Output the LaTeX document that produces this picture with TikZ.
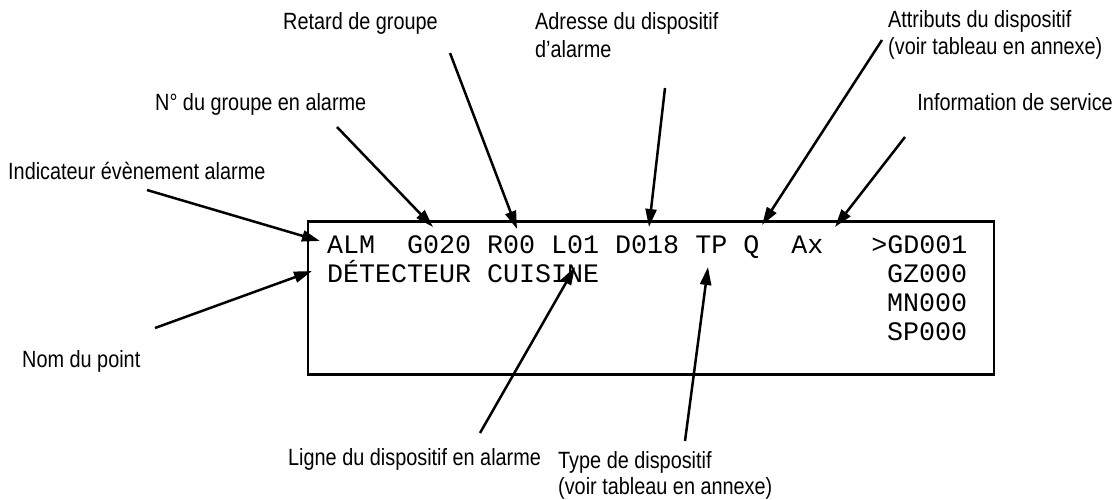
\documentclass[tikz,border=0pt]{standalone}
\usepackage{fontspec}
\usetikzlibrary{arrows.meta}
\newfontfamily\lblfont[FakeStretch=0.845]{Liberation Sans}
\newfontfamily\monofont{Liberation Mono}
\begin{document}
\begin{tikzpicture}[x=1pt,y=-1pt,
  lbl/.style={font=\lblfont\fontsize{23.5}{27}\selectfont, inner sep=0pt, anchor=base west},
  lblr/.style={font=\lblfont\fontsize{23.5}{27}\selectfont, inner sep=0pt, anchor=base east},
  scr/.style={font=\monofont\fontsize{26.67}{29}\selectfont, inner sep=0pt, anchor=base west},
  ptr/.style={line width=2.5pt, -{Triangle[length=18pt,width=11pt]}},
  screen/.style={draw, line width=2.5pt}]
\useasboundingbox (0,0) rectangle (1116,499);
% screen box
\node[screen, minimum width=686pt, minimum height=153pt, inner sep=0pt, anchor=north west] (box) at (306.5,220) {};
% screen text
\node[scr] (l1) at (327,253) {ALM~~G020~R00~L01~D018~TP~Q~~Ax~~~>GD001};
\node[scr] (l2) at (327,282) {DÉTECTEUR~CUISINE};
\node[scr] (l3) at (887,282) {GZ000};
\node[scr] (l4) at (887,311) {MN000};
\node[scr] (l5) at (887,340) {SP000};
% labels
\node[lbl] (ind) at (8,179) {Indicateur évènement alarme};
\node[lbl] (grp) at (155,110) {N° du groupe en alarme};
\node[lbl] (ret) at (283,29) {Retard de groupe};
\node[lbl] (adr1) at (535,29) {Adresse du dispositif};
\node[lbl] (adr2) at (535,57) {d’alarme};
\node[lbl] (att1) at (888,27) {Attributs du dispositif};
\node[lbl] (att2) at (888,54) {(voir tableau en annexe)};
\node[lblr] (inf) at (1113,110) {Information de service};
\node[lbl] (nom) at (22,367) {Nom du point};
\node[lbl] (lig) at (288,465) {Ligne du dispositif en alarme};
\node[lbl] (typ1) at (558,468) {Type de dispositif};
\node[lbl] (typ2) at (558,494) {(voir tableau en annexe)};
% arrow coordinates
\coordinate (indT) at (147,190);  \coordinate (indH) at (320,241);
\coordinate (nomT) at (155,328);  \coordinate (nomH) at (312,271);
\coordinate (grpT) at (337,127);  \coordinate (grpH) at (433,227);
\coordinate (retT) at (450,53);   \coordinate (retH) at (517,229);
\coordinate (adrT) at (665,88);   \coordinate (adrH) at (649,227);
\coordinate (attT) at (882,40);   \coordinate (attH) at (762,225);
\coordinate (infT) at (905,137);  \coordinate (infH) at (835,227);
\coordinate (ligT) at (480,433);  \coordinate (ligH) at (575,267);
\coordinate (typT) at (685,441);  \coordinate (typH) at (708,267);
\draw[ptr] (indT) -- (indH);
\draw[ptr] (nomT) -- (nomH);
\draw[ptr] (grpT) -- (grpH);
\draw[ptr] (retT) -- (retH);
\draw[ptr] (adrT) -- (adrH);
\draw[ptr] (attT) -- (attH);
\draw[ptr] (infT) -- (infH);
\draw[ptr] (ligT) -- (ligH);
\draw[ptr] (typT) -- (typH);
\end{tikzpicture}
\end{document}
